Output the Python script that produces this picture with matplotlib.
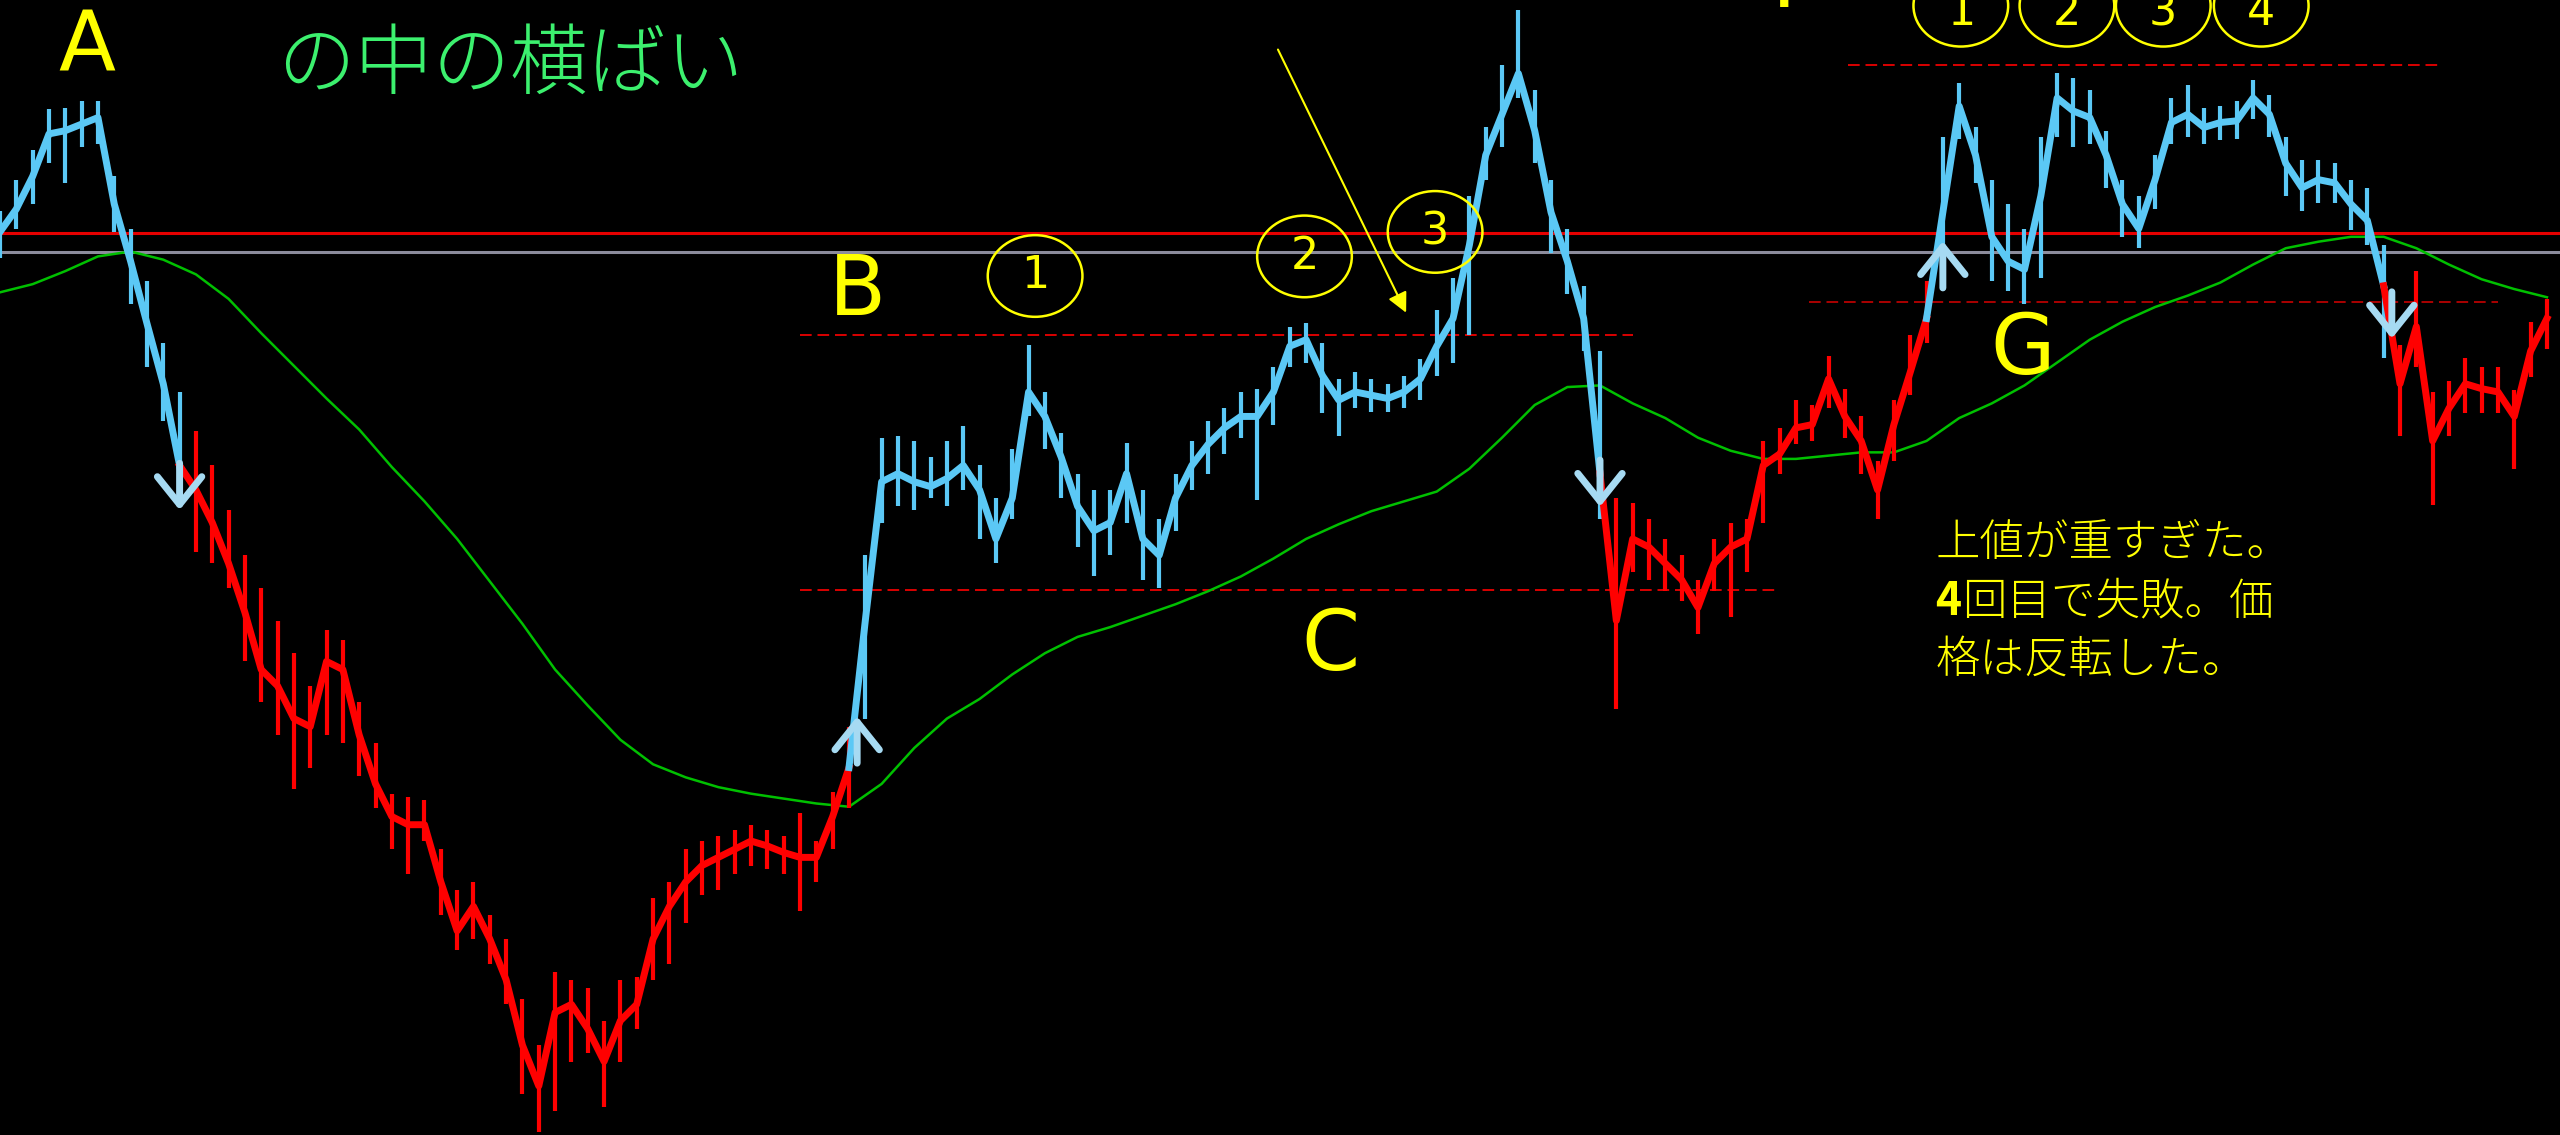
import numpy as np
import matplotlib.pyplot as plt
from matplotlib.patches import Ellipse

# price per bar (close / high / low)
close = [558, 572, 592, 618, 620, 624, 628, 575, 540, 502, 465, 415,
         400, 380, 355, 325, 290, 280, 260, 255, 295, 290, 250, 220, 200, 195, 195, 160, 130, 145,
         125, 100, 60, 35, 80, 85, 70, 50, 75, 85, 125, 145, 160, 170, 175, 180, 185, 182, 178, 175,
         175, 200, 230,
         320, 405, 410, 405, 402, 407, 415, 400, 370, 395, 460, 445, 420, 390, 375, 380, 410, 370,
         360, 395, 415, 428, 438, 445, 445, 460, 488, 492, 470, 455, 460, 458, 456, 460, 468, 488,
         505, 550, 605, 630, 655, 620, 570, 540, 505, 410,
         320, 370, 365, 355, 345, 328, 355, 365, 370, 415, 422, 438, 440, 468, 445, 430, 400, 440,
         472, 505,
         570, 635, 605, 555, 540, 535, 580, 640, 632, 628, 605, 575, 560, 590, 625, 630, 622, 625,
         626, 640, 630, 600, 585, 590, 588, 575, 565, 525,
         465, 500, 430, 450, 465, 462, 460, 445, 485, 505]
high = [571, 590, 608, 633, 634, 638, 638, 592, 560, 528, 490, 460,
        436, 415, 388, 360, 340, 320, 300, 280, 314, 308, 270, 245, 214, 212, 210, 180, 155, 160,
        140, 125, 88, 60, 105, 100, 95, 75, 100, 102, 150, 160, 180, 185, 188, 192, 195, 192, 188,
        202, 185, 215, 255,
        360, 432, 433, 430, 420, 430, 439, 415, 395, 425, 489, 460, 435, 410, 400, 400, 429, 400,
        382, 410, 430, 442, 450, 460, 462, 475, 500, 502, 490, 468, 472, 468, 465, 470, 480, 510,
        530, 580, 622, 660, 694, 645, 590, 560, 525, 485,
        395, 392, 382, 370, 360, 345, 370, 380, 382, 430, 438, 455, 452, 482, 462, 445, 418, 455,
        495, 528,
        616, 649, 622, 590, 575, 560, 616, 655, 652, 645, 620, 590, 580, 605, 640, 648, 634, 635,
        638, 651, 642, 616, 602, 602, 600, 590, 585, 550,
        489, 534, 460, 467, 481, 475, 475, 461, 503, 517]
low = [542, 560, 575, 600, 588, 610, 612, 558, 514, 475, 442, 398,
       362, 355, 340, 295, 270, 250, 217, 230, 250, 245, 225, 205, 180, 165, 185, 140, 118, 125,
       110, 85, 30, 7, 20, 50, 55, 22, 50, 70, 100, 110, 135, 152, 155, 165, 170, 168, 165, 142,
       160, 180, 205,
       260, 380, 390, 388, 395, 390, 400, 370, 355, 382, 445, 425, 395, 365, 347, 360, 380, 345,
       340, 375, 400, 410, 422, 432, 394, 440, 475, 478, 447, 433, 450, 448, 448, 450, 455, 470,
       478, 495, 590, 610, 640, 600, 545, 520, 485, 382,
       266, 350, 345, 338, 332, 312, 338, 322, 350, 380, 410, 428, 430, 450, 432, 410, 382, 418,
       458, 490,
       540, 615, 588, 528, 522, 514, 530, 616, 610, 612, 585, 555, 548, 572, 612, 616, 612, 614,
       615, 627, 616, 580, 571, 576, 576, 559, 550, 481,
       433, 475, 391, 433, 447, 447, 447, 413, 469, 486]

# trend runs (first bar of each run)
trend_start = [0, 12, 53, 99, 119, 147]
trend_dir = ['up', 'down', 'up', 'down', 'up', 'down']

# moving average, every second bar
ma_bars = list(range(0, 157, 2))
ma = [521, 526, 534, 543, 546, 541, 532, 517, 496, 476, 456, 437, 414, 393, 370, 344, 318, 290,
      268, 247, 232, 224, 218, 214, 211, 208, 206, 220, 242, 260, 272, 287, 300, 310, 316, 323,
      330, 338, 347, 358, 370, 379, 387, 393, 399, 413, 432, 452, 463, 464, 453, 444, 432, 424,
      419, 419, 421, 423, 423, 430, 444, 453, 464, 478, 492, 503, 512, 519, 527, 538, 548, 552,
      555, 555, 548, 538, 529, 523, 518]

# horizontal levels
resistance = 557.3
pivot = 545.7
box_top, box_bottom = 495, 339
f_top, g_level = 660, 515

# signal arrows
signal_bar = [11, 52.5, 98, 119, 146.5]
signal_price = [386, 263, 388, 554, 491]
signal_dir = ['down', 'up', 'down', 'up', 'down']

# touches marked with circles
touch_bar = [63.4, 79.9, 87.9]
touch_price = [531, 543, 558]
top_bar = [120.1, 126.6, 132.5, 138.5]
top_price = 696.5

jp = ['Noto Sans CJK JP', 'DejaVu Sans']
BLUE = '#5bc8f5'
RED = '#ff0000'
YELLOW = '#ffff00'

fig = plt.figure(figsize=(25.6, 11.35), dpi=100, facecolor='black')
ax = fig.add_axes([0, 0, 1, 1])
ax.set_facecolor('black')
ax.set_xlim(0, 156.8)
ax.set_ylim(5, 700)
ax.axis('off')

# levels
ax.axhline(resistance, color='#e60000', lw=2.2, zorder=1)
ax.axhline(pivot, color='#8c8c9c', lw=2.2, zorder=1)
ax.hlines([box_top, box_bottom], [49, 49], [100, 108.8], colors=RED, lw=1.2,
          linestyles=[(0, (7, 3.5))], zorder=1)
ax.hlines(f_top, 113.2, 149.5, colors=RED, lw=1.2, linestyles=[(0, (7, 3.5))], zorder=1)
ax.hlines(g_level, 110.8, 153, colors='#c80000', lw=1.2, linestyles=[(0, (7, 3.5))], zorder=1)

# moving average
ax.plot(ma_bars, ma, color='#00c000', lw=1.8, zorder=2)

# price bars
x = np.arange(len(close))
c = np.array(close)
h = np.array(high)
l = np.array(low)
colors = {'up': BLUE, 'down': RED}
bounds = trend_start + [len(close)]
for k, d in enumerate(trend_dir):
    a, b = bounds[k], bounds[k + 1]
    a0 = max(a - 1, 0)
    ax.plot(x[a0:b], c[a0:b], color=colors[d], lw=5, zorder=3)
    ax.vlines(x[a:b], l[a:b], h[a:b], color=colors[d], lw=3, zorder=3)

# signal arrows
for sb, sp, sd in zip(signal_bar, signal_price, signal_dir):
    tail = sp + 32 if sd == 'down' else sp - 32
    ax.annotate('', xy=(sb, sp), xytext=(sb, tail), zorder=4,
                arrowprops=dict(arrowstyle='->, head_length=1.0, head_width=0.8',
                                mutation_scale=20, lw=5, color='#a6daf2'))

# circles
for i, (tb, tp) in enumerate(zip(touch_bar, touch_price)):
    ax.add_patch(Ellipse((tb, tp), 5.8, 50, fill=False, ec=YELLOW, lw=1.8, zorder=5))
    ax.text(tb, tp, str(i + 1), color=YELLOW, fontsize=32, ha='center', va='center', zorder=5)
for i, tb in enumerate(top_bar):
    ax.add_patch(Ellipse((tb, top_price), 5.8, 50, fill=False, ec=YELLOW, lw=1.8, zorder=5))
    ax.text(tb, 684.5, str(i + 1), color=YELLOW, fontsize=32, ha='center', va='baseline', zorder=5)

# labels
for s, lx, ly in [('A', 5.3, 656), ('B', 52.5, 507), ('C', 81.5, 290), ('G', 123.9, 471)]:
    ax.text(lx, ly, s, color=YELLOW, fontsize=60, ha='center', va='baseline', zorder=6)
ax.text(108.5, 695.7, 'F', color=YELLOW, fontsize=60, ha='left', va='baseline', zorder=6)

ax.text(17.0, 646, 'の中の横ばい', color='#3cf06e', fontsize=56, family=jp, weight='light',
        ha='left', va='baseline', zorder=6)

ax.annotate('', xy=(86.2, 507), xytext=(78.2, 671.2), zorder=6,
            arrowprops=dict(arrowstyle='-|>, head_length=0.6, head_width=0.3',
                            mutation_scale=20, lw=1.5, color=YELLOW))

ax.text(118.55, 359.5, '上値が重すぎた。', color=YELLOW, fontsize=32, family=jp, weight='light',
        ha='left', va='baseline', zorder=6)
ax.text(118.55, 323.5, '4', color=YELLOW, fontsize=32, family=jp, weight='bold',
        ha='left', va='baseline', zorder=6)
ax.text(120.15, 323.5, '回目で失敗。価', color=YELLOW, fontsize=32, family=jp, weight='light',
        ha='left', va='baseline', zorder=6)
ax.text(118.55, 288, '格は反転した。', color=YELLOW, fontsize=32, family=jp, weight='light',
        ha='left', va='baseline', zorder=6)

fig.savefig('out.png', dpi=100, facecolor='black')
